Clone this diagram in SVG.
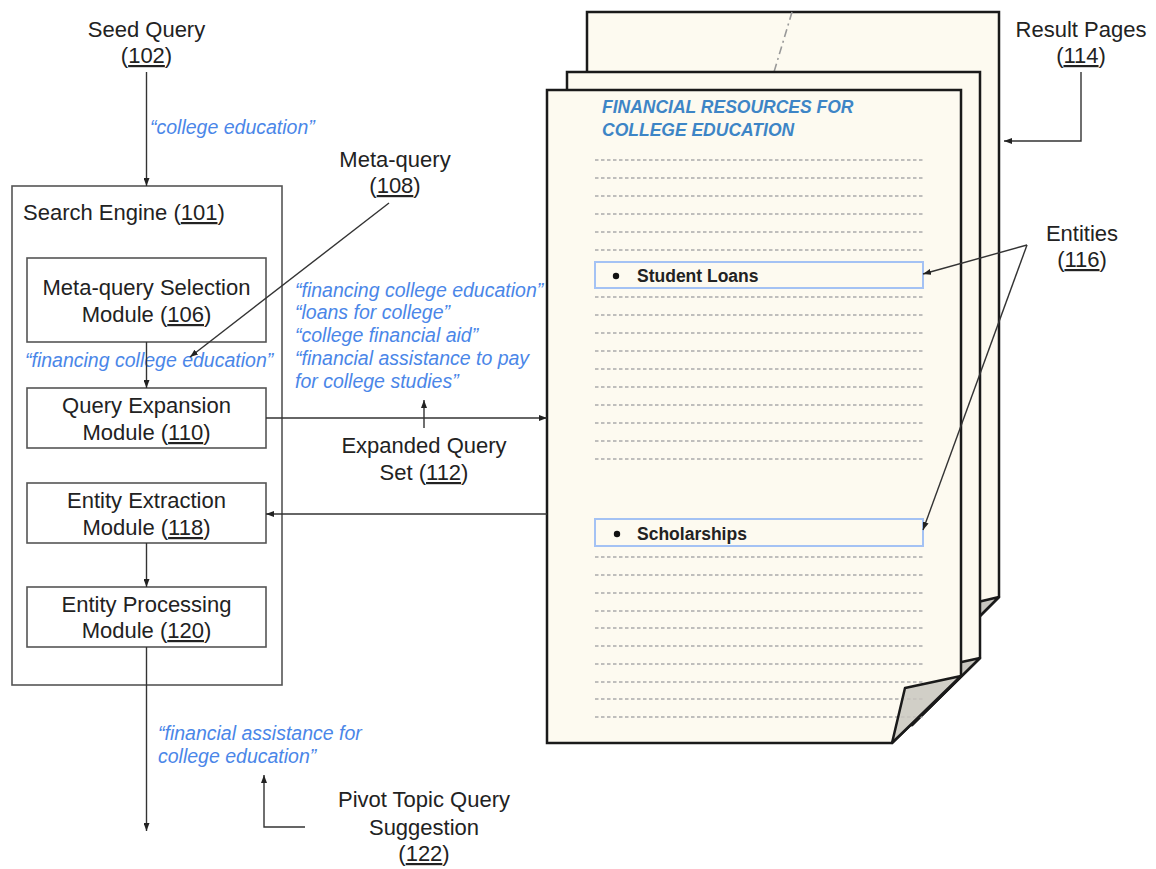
<svg xmlns="http://www.w3.org/2000/svg" width="1156" height="869" viewBox="0 0 1156 869">
<defs>
<marker id="arr" viewBox="0 0 8 6" refX="8" refY="3" markerWidth="8" markerHeight="6" markerUnits="userSpaceOnUse" orient="auto">
<path d="M0,0 L8,3 L0,6 z" fill="#222"/>
</marker>
<style>
.lbl{font-family:"Liberation Sans",Arial,sans-serif;font-size:22px;fill:#222;text-anchor:middle}
.blue{font-family:"Liberation Sans",Arial,sans-serif;font-size:19.5px;font-style:italic;fill:#4a86e8}
.box{fill:#fff;stroke:#555;stroke-width:1.6}
.page{fill:#fdfaf0;stroke:#1a1a1a;stroke-width:2.5;stroke-linejoin:miter}
.flap{fill:#c9c7c0;stroke:#1a1a1a;stroke-width:2.5;stroke-linejoin:round}
.dl{stroke:#aaa;stroke-width:1.3;stroke-dasharray:3.5 2.5;fill:none}
.ent{fill:#fdfaf0;stroke:#a4c2f4;stroke-width:2}
.entt{font-family:"Liberation Sans",Arial,sans-serif;font-size:17.5px;font-weight:bold;fill:#222}
.con{stroke:#333;stroke-width:1.4;fill:none}
.u{text-decoration:underline}
</style>
</defs>

<g id="result-pages">
  <polygon class="page" points="587,12 999,12 999,597 931,665 587,665"/>
  <polygon class="flap" points="931,665 944,610 999,597"/>
  <line x1="792" y1="12" x2="774" y2="72" stroke="#999" stroke-width="1.6" stroke-dasharray="8 4 2 4"/>
  <polygon class="page" points="567,72 980,72 980,658 912,725 567,725"/>
  <polygon class="flap" points="912,725 925,670 980,658"/>
  <polygon class="page" points="547,90 961,90 961,676 892,743 547,743"/>
  <text x="602" y="113" font-family="Liberation Sans,Arial,sans-serif" font-size="17.5" font-weight="bold" font-style="italic" fill="#3d85c6">FINANCIAL RESOURCES FOR</text>
  <text x="602" y="136" font-family="Liberation Sans,Arial,sans-serif" font-size="17.5" font-weight="bold" font-style="italic" fill="#3d85c6">COLLEGE EDUCATION</text>
  <g>
    <line class="dl" x1="595" y1="160" x2="923" y2="160"/>
    <line class="dl" x1="595" y1="178" x2="923" y2="178"/>
    <line class="dl" x1="595" y1="196" x2="923" y2="196"/>
    <line class="dl" x1="595" y1="214" x2="923" y2="214"/>
    <line class="dl" x1="595" y1="232" x2="923" y2="232"/>
    <line class="dl" x1="595" y1="250" x2="923" y2="250"/>
    <line class="dl" x1="595" y1="297" x2="923" y2="297"/>
    <line class="dl" x1="595" y1="315" x2="923" y2="315"/>
    <line class="dl" x1="595" y1="333" x2="923" y2="333"/>
    <line class="dl" x1="595" y1="351" x2="923" y2="351"/>
    <line class="dl" x1="595" y1="369" x2="923" y2="369"/>
    <line class="dl" x1="595" y1="387" x2="923" y2="387"/>
    <line class="dl" x1="595" y1="405" x2="923" y2="405"/>
    <line class="dl" x1="595" y1="423" x2="923" y2="423"/>
    <line class="dl" x1="595" y1="441" x2="923" y2="441"/>
    <line class="dl" x1="595" y1="459" x2="923" y2="459"/>
    <line class="dl" x1="595" y1="557" x2="923" y2="557"/>
    <line class="dl" x1="595" y1="575" x2="923" y2="575"/>
    <line class="dl" x1="595" y1="593" x2="923" y2="593"/>
    <line class="dl" x1="595" y1="611" x2="923" y2="611"/>
    <line class="dl" x1="595" y1="628" x2="923" y2="628"/>
    <line class="dl" x1="595" y1="646" x2="923" y2="646"/>
    <line class="dl" x1="595" y1="664" x2="923" y2="664"/>
    <line class="dl" x1="595" y1="682" x2="923" y2="682"/>
    <line class="dl" x1="595" y1="699" x2="923" y2="699"/>
    <line class="dl" x1="595" y1="717" x2="923" y2="717"/>
  </g>
  <polygon class="flap" points="892,743 905,688 961,676" fill-opacity="0.85"/>
</g>

<g id="entity-student-loans">
  <rect class="ent" x="595" y="262" width="328" height="26"/>
  <circle cx="616" cy="276" r="3.2" fill="#111"/>
  <text class="entt" x="637" y="282">Student Loans</text>
</g>
<g id="entity-scholarships">
  <rect class="ent" x="595" y="519" width="328" height="27"/>
  <circle cx="617" cy="534" r="3.2" fill="#111"/>
  <text class="entt" x="637" y="540">Scholarships</text>
</g>

<g id="search-engine">
  <rect class="box" x="12" y="186" width="270" height="499" fill="none"/>
  <text class="lbl" x="23" y="220" style="text-anchor:start">Search Engine (<tspan class="u">101</tspan>)</text>
</g>
<g id="meta-query-selection">
  <rect class="box" x="27" y="258" width="239" height="84"/>
  <text class="lbl" x="146.5" y="295">Meta-query Selection</text>
  <text class="lbl" x="146.5" y="322">Module (<tspan class="u">106</tspan>)</text>
</g>
<g id="query-expansion">
  <rect class="box" x="27" y="388" width="239" height="60"/>
  <text class="lbl" x="146.5" y="413">Query Expansion</text>
  <text class="lbl" x="146.5" y="440">Module (<tspan class="u">110</tspan>)</text>
</g>
<g id="entity-extraction">
  <rect class="box" x="27" y="483" width="239" height="60"/>
  <text class="lbl" x="146.5" y="508">Entity Extraction</text>
  <text class="lbl" x="146.5" y="535">Module (<tspan class="u">118</tspan>)</text>
</g>
<g id="entity-processing">
  <rect class="box" x="27" y="587" width="239" height="60"/>
  <text class="lbl" x="146.5" y="612">Entity Processing</text>
  <text class="lbl" x="146.5" y="638">Module (<tspan class="u">120</tspan>)</text>
</g>

<g id="seed-query">
  <text class="lbl" x="146.5" y="37">Seed Query</text>
  <text class="lbl" x="146.5" y="63">(<tspan class="u">102</tspan>)</text>
</g>
<g id="meta-query">
  <text class="lbl" x="395" y="167">Meta-query</text>
  <text class="lbl" x="395" y="193">(<tspan class="u">108</tspan>)</text>
</g>
<g id="result-pages-label">
  <text class="lbl" x="1081" y="37">Result Pages</text>
  <text class="lbl" x="1081" y="63">(<tspan class="u">114</tspan>)</text>
</g>
<g id="entities-label">
  <text class="lbl" x="1082" y="241">Entities</text>
  <text class="lbl" x="1082" y="267">(<tspan class="u">116</tspan>)</text>
</g>
<g id="expanded-query-set">
  <text class="lbl" x="424" y="453">Expanded Query</text>
  <text class="lbl" x="424" y="480">Set (<tspan class="u">112</tspan>)</text>
</g>
<g id="pivot-topic">
  <text class="lbl" x="424" y="807">Pivot Topic Query</text>
  <text class="lbl" x="424" y="835">Suggestion</text>
  <text class="lbl" x="424" y="861">(<tspan class="u">122</tspan>)</text>
</g>

<g id="query-texts">
  <text class="blue" x="150" y="134">“college education”</text>
  <text class="blue" x="25" y="367">“financing college education”</text>
  <text class="blue" x="295" y="297">“financing college education”</text>
  <text class="blue" x="295" y="319">“loans for college”</text>
  <text class="blue" x="295" y="342">“college financial aid”</text>
  <text class="blue" x="295" y="365">“financial assistance to pay</text>
  <text class="blue" x="295" y="388">for college studies”</text>
  <text class="blue" x="158" y="740">“financial assistance for</text>
  <text class="blue" x="158" y="763">college education”</text>
</g>

<g id="connectors">
  <line class="con" x1="146.5" y1="72" x2="146.5" y2="186" marker-end="url(#arr)"/>
  <line class="con" x1="389" y1="203" x2="190" y2="357" marker-end="url(#arr)"/>
  <line class="con" x1="146.5" y1="342" x2="146.5" y2="388" marker-end="url(#arr)"/>
  <line class="con" x1="266" y1="418" x2="547" y2="418" marker-end="url(#arr)"/>
  <line class="con" x1="424" y1="428" x2="424" y2="400" marker-end="url(#arr)"/>
  <line class="con" x1="547" y1="514" x2="266" y2="514" marker-end="url(#arr)"/>
  <line class="con" x1="146.5" y1="543" x2="146.5" y2="587" marker-end="url(#arr)"/>
  <line class="con" x1="146.5" y1="647" x2="146.5" y2="831" marker-end="url(#arr)"/>
  <polyline class="con" points="305,827 264,827 264,775" marker-end="url(#arr)"/>
  <polyline class="con" points="1081,72 1081,141 1004,141" marker-end="url(#arr)"/>
  <line class="con" x1="1027" y1="245" x2="923" y2="274" marker-end="url(#arr)"/>
  <line class="con" x1="1027" y1="245" x2="923" y2="530" marker-end="url(#arr)"/>
</g>
</svg>
